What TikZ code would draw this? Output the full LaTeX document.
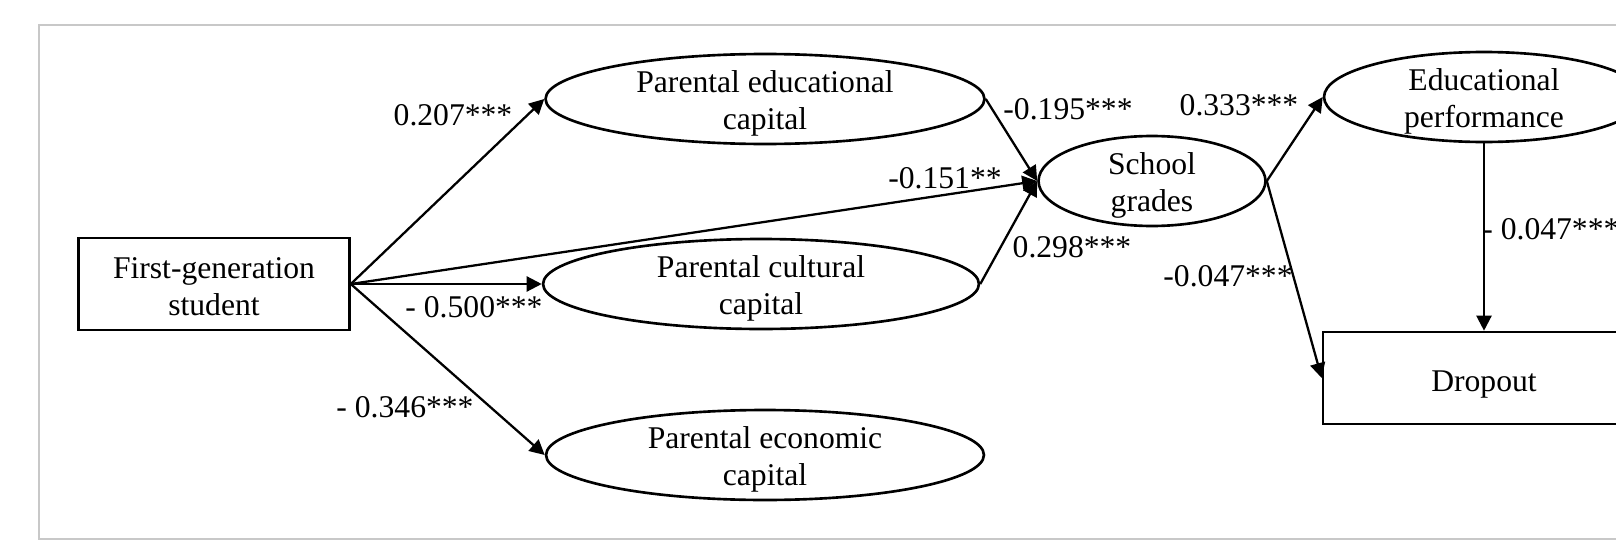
\documentclass[tikz,border=0pt]{standalone}
\usepackage{fontspec}
\setmainfont{Liberation Serif}
\usetikzlibrary{shapes.geometric,arrows.meta}
\definecolor{framegray}{RGB}{200,200,200}
\begin{document}
\begin{tikzpicture}[x=0.02cm,y=-0.02cm,
		font=\fontsize{18}{21.2}\selectfont,
		box/.style={draw,line width=1.5pt,align=center,text height=35.8pt,minimum height=1.84cm},
		oval/.style={draw,ellipse,line width=1.5pt,align=center,text height=39pt,inner sep=0pt,inner ysep=-4.5pt,minimum height=1.8cm},
		arr/.style={line width=1.3pt,-{Triangle[length=0.3cm,width=0.3cm]}}]
		\clip (0,0) rectangle (1616,541);
		\draw[framegray,line width=1.1pt] (39,25) rectangle (1680,539);

		\node[box,minimum width=5.42cm] (fg) at (214,284) {First-generation\\student};
		\node[oval,minimum width=8.78cm] (pedu) at (765,99) {Parental educational\\capital};
		\node[oval,minimum width=8.72cm] (pcul) at (761,284) {Parental cultural\\capital};
		\node[oval,minimum width=8.76cm] (pecon) at (765,455) {Parental economic\\capital};
		\node[oval,minimum width=4.54cm] (sg) at (1152,181) {School\\grades};
		\node[oval,minimum width=6.4cm] (perf) at (1484,97) {Educational\\performance};
		\node[box,minimum width=6.44cm,text height=19pt] (drop) at (1484,378) {Dropout};

		\draw[arr] (fg.east) -- (pedu.west);
		\draw[arr] (fg.east) -- (pcul.west);
		\draw[arr] (fg.east) -- (pecon.west);
		\draw[arr] (fg.east) -- (sg.west);
		\draw[arr] (pedu.east) -- (sg.west);
		\draw[arr] (pcul.east) -- (sg.west);
		\draw[arr] (sg.east) -- (perf.west);
		\draw[arr] (sg.east) -- (drop.west);
		\draw[arr] (perf.south) -- (drop.north);

		\node (w1) at (453,115) {0.207***};
		\node (w2) at (474,307) {- 0.500***};
		\node (w3) at (405,407) {- 0.346***};
		\node (w4) at (945,178) {-0.151**};
		\node (w5) at (1068,109) {-0.195***};
		\node (w6) at (1072,247) {0.298***};
		\node (w7) at (1239,105) {0.333***};
		\node (w8) at (1228,276) {-0.047***};
		\node[anchor=west,inner sep=0pt] (w9) at (1482,229) {- 0.047***};
	\end{tikzpicture}
\end{document}
